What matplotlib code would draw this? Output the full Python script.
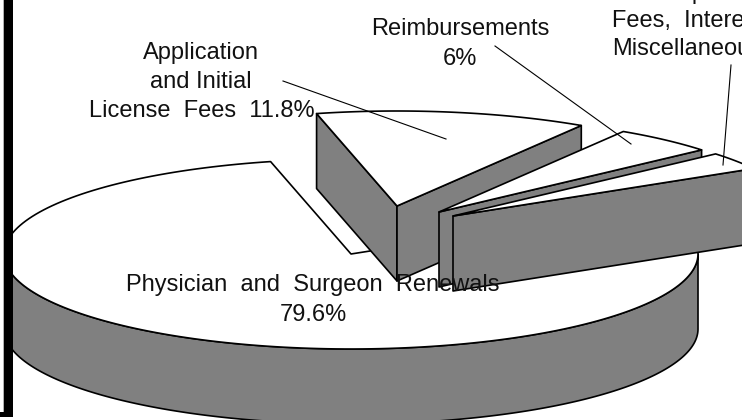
import matplotlib
matplotlib.use('Agg')
import matplotlib.pyplot as plt
from matplotlib.patches import Polygon, Rectangle
import numpy as np

# values in percent, clockwise after the big slice
labels = ['Application', 'Reimbursements', 'Delinquency']
shares = [11.8, 6.0, 2.6]
main_share = 79.6

plt.rcParams['font.family'] = ['Liberation Sans', 'DejaVu Sans']

# pie geometry in picture pixels
cx, cy = 351, 254
rx, ry = 347, 95
depth = 75
first_angle = -13.4
offsets = [(46, -48), (88, -42), (102, -38)]
end_nudge = [3.0, -1.5, 0.0]  # the drawn slices are not quite true to scale
GREY = '#808080'
LW = 1.2


def rim(a0, a1, dx=0, dy=0):
    t = np.radians(np.linspace(a0, a1, 200))
    return np.column_stack([cx + dx + rx * np.sin(t), cy + dy - ry * np.cos(t)])


def poly(ax, pts, color):
    ax.add_patch(Polygon(pts, closed=True, facecolor=color, edgecolor='black',
                         linewidth=LW, joinstyle='round'))


def radial_wall(ax, angle, dx, dy):
    p = rim(angle, angle, dx, dy)[0]
    a = [cx + dx, cy + dy]
    poly(ax, [a, p, [p[0], p[1] + depth], [a[0], a[1] + depth]], GREY)


fig = plt.figure(figsize=(7.42, 4.2), dpi=100)
ax = fig.add_axes([0, 0, 1, 1])
ax.set_xlim(0, 742)
ax.set_ylim(420, 0)
ax.axis('off')

# big slice: outer wall then top
main_start = first_angle + 360 * sum(shares) / 100
main_end = main_start + 360 * main_share / 100
top_arc = rim(90, 270)
poly(ax, np.vstack([top_arc, rim(270, 90, 0, depth)]), GREY)
poly(ax, np.vstack([[[cx, cy]], rim(main_start, main_end)]), 'white')

# pulled out slices
start = first_angle
total = 0
for i, (share, (dx, dy)) in enumerate(zip(shares, offsets)):
    total += share
    end = first_angle + 360 * total / 100 + end_nudge[i]
    if start < 0:
        radial_wall(ax, start, dx, dy)
    radial_wall(ax, end, dx, dy)
    poly(ax, np.vstack([[[cx + dx, cy + dy]], rim(start, end, dx, dy)]), 'white')
    start = end

# frame on the left
ax.add_patch(Rectangle((3, 0), 1, 412, facecolor='#b0b0b0', edgecolor='none'))
ax.add_patch(Rectangle((4, 0), 9, 417, facecolor='black', edgecolor='none'))
ax.add_patch(Rectangle((0, 412), 13, 5, facecolor='black', edgecolor='none'))

# leader lines
ax.plot([283, 446], [81, 139], color='black', lw=0.8)
ax.plot([495, 631], [46, 144], color='black', lw=0.8)
ax.plot([731, 723], [65, 165], color='black', lw=0.8)

fs = 17
txt = dict(fontsize=fs, color='#111111', va='baseline')
ax.text(201, 59, 'Application', ha='center', **txt)
ax.text(201, 88, 'and Initial', ha='center', **txt)
ax.text(202, 117, 'License  Fees  %.1f%%' % shares[0], ha='center', **txt)
ax.text(460, 35, labels[1], ha='center', **txt)
ax.text(460, 65, '%d%%' % shares[1], ha='center', **txt)
ax.text(695, -1, labels[2], ha='center', **txt)
ax.text(612, 27, 'Fees,  Interest,', ha='left', **txt)
ax.text(612, 55, 'Miscellaneous', ha='left', **txt)
ax.text(313, 291, 'Physician  and  Surgeon  Renewals', ha='center', **txt)
ax.text(313, 321, '%.1f%%' % main_share, ha='center', **txt)

fig.savefig('out.png', dpi=100)
